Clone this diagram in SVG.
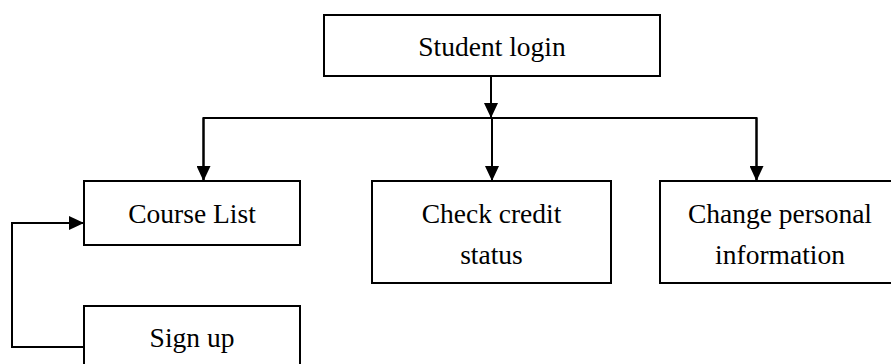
<svg xmlns="http://www.w3.org/2000/svg" width="891" height="364" viewBox="0 0 891 364">
<style>
.box{fill:#fff;stroke:#000;stroke-width:2}
.lbl{font-family:"Liberation Serif","Times New Roman",serif;font-size:27.5px;fill:#000;text-anchor:middle}
.con{fill:none;stroke:#000;stroke-width:2}
</style>
<defs>
<marker id="arr" viewBox="0 0 15 14" refX="15" refY="7" markerWidth="15" markerHeight="14" markerUnits="userSpaceOnUse" orient="auto">
<path d="M0,0 L15,7 L0,14 z" fill="#000"/>
</marker>
</defs>
<rect width="891" height="364" fill="#fff"/>
<g id="connectors">
<line class="con" x1="491" y1="76" x2="491" y2="118" marker-end="url(#arr)"/>
<polyline class="con" points="203.5,180 203.5,118 756.5,118 756.5,180" marker-start="none"/>
<line class="con" x1="203.5" y1="118" x2="203.5" y2="181" marker-end="url(#arr)"/>
<line class="con" x1="492" y1="118" x2="492" y2="181" marker-end="url(#arr)"/>
<line class="con" x1="756.5" y1="118" x2="756.5" y2="181" marker-end="url(#arr)"/>
<polyline class="con" points="84,347 12,347 12,223 84,223" marker-end="url(#arr)"/>
</g>
<g id="student-login">
<rect class="box" x="324" y="15" width="336" height="61"/>
<text class="lbl" x="492" y="55.5">Student login</text>
</g>
<g id="course-list">
<rect class="box" x="84" y="181" width="216" height="64"/>
<text class="lbl" x="192" y="223">Course List</text>
</g>
<g id="check-credit">
<rect class="box" x="372" y="181" width="239" height="102"/>
<text class="lbl" x="491.5" y="223">Check credit</text>
<text class="lbl" x="491.5" y="264">status</text>
</g>
<g id="change-personal">
<rect class="box" x="660" y="181" width="240" height="102"/>
<text class="lbl" x="780" y="223">Change personal</text>
<text class="lbl" x="780" y="264">information</text>
</g>
<g id="sign-up">
<rect class="box" x="84" y="306" width="216" height="64"/>
<text class="lbl" x="192" y="347">Sign up</text>
</g>
</svg>
